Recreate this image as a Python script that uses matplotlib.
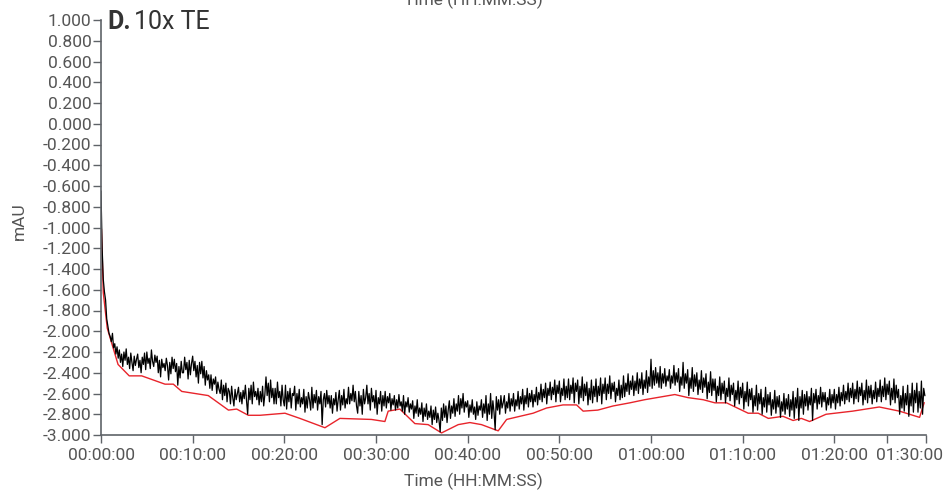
import numpy as np
import matplotlib
matplotlib.use("Agg")
from matplotlib import pyplot as plt

plt.rcParams["font.family"] = ["Roboto", "DejaVu Sans"]
plt.rcParams["axes.unicode_minus"] = False

# black trace, one row per minute, samples every 7.5 s (mAU)
black = [
    -0.65, -1.20, -1.50, -1.62, -1.70, -1.88, -1.95, -2.02,
    -2.05, -2.10, -2.02, -2.16, -2.12, -2.22, -2.15, -2.26,
    -2.18, -2.30, -2.22, -2.34, -2.20, -2.28, -2.17, -2.32,
    -2.25, -2.36, -2.21, -2.30, -2.38, -2.24, -2.33, -2.27,
    -2.22, -2.35, -2.28, -2.40, -2.25, -2.32, -2.21, -2.37,
    -2.20, -2.31, -2.26, -2.36, -2.18, -2.29, -2.34, -2.23,
    -2.30, -2.24, -2.40, -2.28, -2.44, -2.27, -2.35, -2.31,
    -2.38, -2.26, -2.33, -2.47, -2.30, -2.41, -2.25, -2.36,
    -2.27, -2.39, -2.31, -2.52, -2.34, -2.45, -2.29, -2.40,
    -2.40, -2.25, -2.37, -2.30, -2.46, -2.28, -2.42, -2.31,
    -2.24, -2.38, -2.29, -2.44, -2.33, -2.50, -2.30, -2.41,
    -2.29, -2.45, -2.34, -2.52, -2.38, -2.47, -2.42, -2.55,
    -2.42, -2.57, -2.46, -2.51, -2.44, -2.60, -2.49, -2.56,
    -2.60, -2.47, -2.66, -2.52, -2.62, -2.50, -2.68, -2.55,
    -2.58, -2.70, -2.53, -2.64, -2.72, -2.56, -2.66, -2.60,
    -2.54, -2.68, -2.59, -2.70, -2.57, -2.65, -2.52, -2.67,
    -2.80, -2.55, -2.66, -2.52, -2.70, -2.49, -2.63, -2.58,
    -2.66, -2.55, -2.71, -2.58, -2.68, -2.53, -2.72, -2.61,
    -2.44, -2.62, -2.50, -2.68, -2.47, -2.64, -2.55, -2.70,
    -2.55, -2.70, -2.49, -2.64, -2.58, -2.72, -2.52, -2.66,
    -2.72, -2.52, -2.75, -2.58, -2.68, -2.55, -2.74, -2.60,
    -2.62, -2.53, -2.76, -2.60, -2.70, -2.56, -2.73, -2.64,
    -2.70, -2.56, -2.78, -2.63, -2.74, -2.59, -2.66, -2.76,
    -2.54, -2.74, -2.61, -2.69, -2.57, -2.76, -2.63, -2.70,
    -2.58, -2.90, -2.66, -2.60, -2.73, -2.57, -2.70, -2.62,
    -2.74, -2.62, -2.79, -2.65, -2.71, -2.59, -2.77, -2.66,
    -2.57, -2.76, -2.62, -2.71, -2.56, -2.74, -2.65, -2.70,
    -2.54, -2.70, -2.60, -2.67, -2.52, -2.68, -2.58, -2.72,
    -2.79, -2.58, -2.72, -2.62, -2.80, -2.56, -2.70, -2.64,
    -2.52, -2.70, -2.60, -2.76, -2.55, -2.68, -2.62, -2.74,
    -2.57, -2.80, -2.64, -2.70, -2.58, -2.77, -2.62, -2.72,
    -2.58, -2.74, -2.63, -2.69, -2.60, -2.76, -2.65, -2.71,
    -2.62, -2.76, -2.66, -2.74, -2.61, -2.72, -2.68, -2.77,
    -2.62, -2.80, -2.68, -2.73, -2.64, -2.78, -2.70, -2.75,
    -2.67, -2.84, -2.72, -2.79, -2.66, -2.82, -2.74, -2.80,
    -2.69, -2.87, -2.74, -2.82, -2.70, -2.85, -2.77, -2.83,
    -2.72, -2.90, -2.76, -2.85, -2.73, -2.88, -2.79, -2.86,
    -2.97, -2.74, -2.86, -2.70, -2.83, -2.72, -2.88, -2.76,
    -2.67, -2.84, -2.72, -2.79, -2.65, -2.82, -2.70, -2.77,
    -2.62, -2.80, -2.65, -2.74, -2.60, -2.78, -2.68, -2.73,
    -2.67, -2.83, -2.71, -2.78, -2.66, -2.80, -2.73, -2.85,
    -2.68, -2.81, -2.72, -2.76, -2.66, -2.83, -2.70, -2.79,
    -2.62, -2.86, -2.70, -2.80, -2.60, -2.84, -2.67, -2.78,
    -2.95, -2.63, -2.76, -2.66, -2.80, -2.62, -2.74, -2.69,
    -2.62, -2.79, -2.68, -2.74, -2.60, -2.77, -2.65, -2.72,
    -2.60, -2.77, -2.66, -2.72, -2.58, -2.75, -2.63, -2.70,
    -2.56, -2.76, -2.62, -2.70, -2.55, -2.73, -2.60, -2.68,
    -2.57, -2.73, -2.61, -2.68, -2.54, -2.71, -2.59, -2.66,
    -2.51, -2.68, -2.56, -2.64, -2.50, -2.70, -2.55, -2.62,
    -2.49, -2.66, -2.54, -2.61, -2.47, -2.68, -2.52, -2.60,
    -2.48, -2.68, -2.55, -2.62, -2.46, -2.66, -2.53, -2.64,
    -2.46, -2.66, -2.52, -2.60, -2.45, -2.69, -2.50, -2.58,
    -2.47, -2.70, -2.53, -2.64, -2.44, -2.67, -2.51, -2.62,
    -2.49, -2.71, -2.55, -2.66, -2.47, -2.69, -2.53, -2.63,
    -2.46, -2.68, -2.53, -2.62, -2.45, -2.70, -2.51, -2.60,
    -2.45, -2.66, -2.51, -2.60, -2.43, -2.65, -2.50, -2.58,
    -2.49, -2.68, -2.55, -2.62, -2.47, -2.66, -2.52, -2.64,
    -2.43, -2.63, -2.50, -2.58, -2.41, -2.61, -2.48, -2.56,
    -2.43, -2.62, -2.48, -2.57, -2.40, -2.60, -2.46, -2.55,
    -2.40, -2.61, -2.47, -2.55, -2.38, -2.59, -2.44, -2.53,
    -2.27, -2.55, -2.38, -2.52, -2.35, -2.50, -2.40, -2.54,
    -2.34, -2.55, -2.41, -2.50, -2.36, -2.53, -2.43, -2.48,
    -2.37, -2.55, -2.43, -2.50, -2.33, -2.52, -2.40, -2.49,
    -2.36, -2.58, -2.44, -2.52, -2.30, -2.55, -2.41, -2.50,
    -2.37, -2.62, -2.45, -2.55, -2.35, -2.58, -2.42, -2.53,
    -2.40, -2.61, -2.47, -2.56, -2.38, -2.59, -2.45, -2.54,
    -2.41, -2.65, -2.49, -2.59, -2.39, -2.62, -2.46, -2.57,
    -2.46, -2.68, -2.53, -2.62, -2.44, -2.66, -2.50, -2.60,
    -2.48, -2.69, -2.55, -2.63, -2.45, -2.67, -2.52, -2.61,
    -2.50, -2.72, -2.57, -2.66, -2.48, -2.70, -2.54, -2.64,
    -2.50, -2.75, -2.58, -2.68, -2.49, -2.72, -2.56, -2.66,
    -2.55, -2.78, -2.62, -2.72, -2.52, -2.76, -2.60, -2.70,
    -2.56, -2.80, -2.64, -2.73, -2.54, -2.78, -2.61, -2.71,
    -2.59, -2.81, -2.66, -2.75, -2.57, -2.79, -2.63, -2.73,
    -2.62, -2.83, -2.68, -2.77, -2.60, -2.80, -2.65, -2.75,
    -2.61, -2.82, -2.66, -2.76, -2.58, -2.84, -2.64, -2.74,
    -2.55, -2.86, -2.63, -2.74, -2.57, -2.80, -2.61, -2.72,
    -2.58, -2.76, -2.63, -2.71, -2.55, -2.86, -2.60, -2.69,
    -2.56, -2.75, -2.62, -2.70, -2.54, -2.73, -2.59, -2.68,
    -2.59, -2.76, -2.64, -2.71, -2.56, -2.74, -2.61, -2.69,
    -2.56, -2.75, -2.61, -2.69, -2.54, -2.72, -2.59, -2.67,
    -2.52, -2.70, -2.58, -2.66, -2.50, -2.68, -2.55, -2.64,
    -2.50, -2.70, -2.56, -2.65, -2.48, -2.68, -2.54, -2.62,
    -2.50, -2.71, -2.57, -2.66, -2.47, -2.69, -2.53, -2.64,
    -2.52, -2.70, -2.57, -2.65, -2.49, -2.68, -2.55, -2.63,
    -2.47, -2.68, -2.53, -2.63, -2.45, -2.66, -2.51, -2.61,
    -2.48, -2.71, -2.55, -2.66, -2.46, -2.69, -2.52, -2.64,
    -2.56, -2.80, -2.62, -2.74, -2.53, -2.77, -2.60, -2.71,
    -2.52, -2.82, -2.60, -2.72, -2.50, -2.78, -2.57, -2.69,
    -2.50, -2.78, -2.58, -2.74, -2.48, -2.80, -2.55, -2.62,
]
t_black = np.arange(len(black)) * 0.125  # minutes

# red baseline (minutes, mAU)
t_red = [0.05, 0.25, 0.68, 1.86, 3.08, 4.44, 6.98, 7.89, 8.81, 11.7, 13.9, 14.8,
         16.07, 17.34, 20.07, 21.7, 24.43, 26.06, 29.5, 30.97, 31.33, 32.6,
         34.24, 35.69, 37.15, 38.97, 40.24, 41.51, 43.33, 44.25, 45.69, 47.14,
         48.6, 50.4, 51.88, 52.6, 54.2, 55.87, 57.69, 59.3, 62.6, 64.05, 65.7,
         66.97, 68.24, 70.6, 71.7, 72.8, 74.4, 75.5, 76.4, 77.3, 79.1, 82.0,
         84.9, 87.1, 89.3, 89.8]
red = [-1.02, -1.63, -1.97, -2.32, -2.43, -2.43, -2.51, -2.51, -2.58, -2.62,
       -2.76, -2.75, -2.81, -2.81, -2.79, -2.84, -2.93, -2.84, -2.85, -2.87,
       -2.77, -2.75, -2.89, -2.90, -2.98, -2.90, -2.88, -2.90, -2.96, -2.85,
       -2.82, -2.79, -2.74, -2.71, -2.71, -2.77, -2.76, -2.72, -2.69, -2.66,
       -2.61, -2.64, -2.66, -2.69, -2.69, -2.79, -2.79, -2.84, -2.82, -2.86,
       -2.84, -2.87, -2.80, -2.77, -2.73, -2.77, -2.83, -2.69]

x_ticks = [0, 10, 20, 30, 40, 50, 60, 70, 80, 90]
x_labels = ["00:00:00", "00:10:00", "00:20:00", "00:30:00", "00:40:00",
            "00:50:00", "01:00:00", "01:10:00", "01:20:00", "01:30:00"]
y_ticks = np.round(np.arange(-3.0, 1.01, 0.2), 1)

grey = "#5f6368"
txt = "#555555"
fs = 12.5

fig = plt.figure(figsize=(9.46, 4.91), dpi=100)
ax = fig.add_axes([101 / 946, 56 / 491, 825 / 946, 415 / 491])

ax.plot(t_red, red, color="#e8242b", lw=1.0)
ax.plot(t_black, black, color="black", lw=0.9)

ax.set_xlim(0, 90)
ax.set_ylim(-3.0, 1.0)
ax.set_xticks(x_ticks, x_labels[:-1] + [""])
ax.set_xticks([85.7], minor=True)
ax.set_yticks(y_ticks, ["%.3f" % v for v in y_ticks])

for s in ["top", "right"]:
    ax.spines[s].set_visible(False)
for s in ["left", "bottom"]:
    ax.spines[s].set_color(grey)
    ax.spines[s].set_linewidth(1.2)

ax.tick_params(axis="both", which="both", colors=grey, length=6, width=1,
               labelsize=fs, labelcolor=txt)
ax.tick_params(axis="y", pad=1)
ax.tick_params(axis="x", pad=3)

# last x label sits shifted left to stay inside the figure
ax.annotate("01:30:00", xy=(90, 0), xycoords=("data", "axes fraction"),
            xytext=(-12, -9), textcoords="offset points", ha="center", va="top",
            fontsize=fs, color=txt)

fig.text(0.5, 10 / 491, "Time (HH:MM:SS)", ha="center", va="center",
         fontsize=fs, color=txt)
fig.text(0.5, 1 - 5 / 491, "Time (HH:MM:SS)", ha="center", va="baseline",
         fontsize=fs, color=txt)
fig.text(19 / 946, 1 - 221 / 491, "mAU", rotation=90, ha="center", va="center",
         fontsize=fs, color=txt)

ax.annotate("D.", xy=(0.0073, 0.978), xycoords="axes fraction", fontsize=18,
            fontweight="bold", color="#333333", ha="left", va="baseline")
ax.annotate("10x TE", xy=(0.0073, 0.978), xycoords="axes fraction",
            xytext=(19.5, 0), textcoords="offset points", fontsize=18,
            color="#333333", ha="left", va="baseline")

fig.savefig("out.png", dpi=100)
